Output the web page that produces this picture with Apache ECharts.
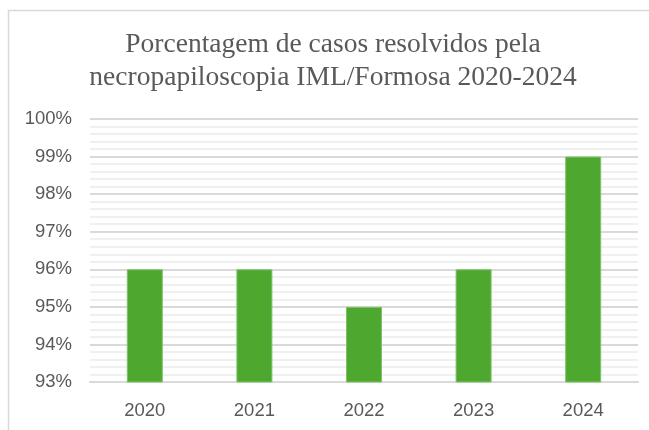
<!DOCTYPE html>
<html lang="pt">
<head>
    <meta charset="UTF-8">
    <title>Porcentagem de casos resolvidos</title>
    <script src="https://cdn.jsdelivr.net/npm/echarts@6/dist/echarts.min.js"></script>
    <style>
        html, body { margin: 0; padding: 0; background: #fff; }
        #chart { width: 649px; height: 430px; }
    </style>
</head>
<body>
    <div id="chart"></div>
    <script>
        // dados
        const anos = ['2020', '2021', '2022', '2023', '2024'];
        const percentuais = [96, 96, 95, 96, 99];
        const yMin = 93;
        const yMax = 100;

        var myChart = echarts.init(document.getElementById('chart'));

        var option = {
            backgroundColor: '#fff',
            animation: false,
            title: {
                text: 'Porcentagem de casos resolvidos pela\nnecropapiloscopia IML/Formosa 2020-2024',
                left: 333,
                textAlign: 'center',
                top: 28,
                padding: 0,
                textStyle: {
                    fontFamily: 'Liberation Serif',
                    fontSize: 27.5,
                    fontWeight: 'normal',
                    lineHeight: 33,
                    color: '#595959'
                }
            },
            graphic: [
                {
                    type: 'rect',
                    shape: { x: 8.5, y: 10.5, width: 700, height: 500 },
                    style: { fill: 'none', stroke: '#d9d9d9', lineWidth: 1.5 },
                    silent: true,
                    z: -1
                }
            ],
            grid: {
                left: 90,
                right: 11,
                top: 119,
                bottom: 48
            },
            xAxis: {
                type: 'category',
                data: anos,
                axisLine: { lineStyle: { color: '#d9d9d9', width: 2 } },
                axisTick: { show: false },
                axisLabel: {
                    margin: 19,
                    fontFamily: 'Liberation Sans',
                    fontSize: 18.5,
                    color: '#595959'
                }
            },
            yAxis: {
                type: 'value',
                min: yMin,
                max: yMax,
                interval: 1,
                axisLine: { show: false },
                axisTick: { show: false },
                axisLabel: {
                    margin: 18,
                    fontFamily: 'Liberation Sans',
                    fontSize: 18.5,
                    color: '#595959',
                    formatter: '{value}%'
                },
                splitLine: { lineStyle: { color: '#d9d9d9', width: 2 } },
                minorTick: { show: false, splitNumber: 5 },
                minorSplitLine: { show: true, lineStyle: { color: '#f0f0f0', width: 2 } }
            },
            series: [
                {
                    type: 'bar',
                    data: percentuais,
                    barWidth: 36,
                    itemStyle: {
                        color: '#4ea72e',
                        borderColor: '#7cc466',
                        borderWidth: 1
                    }
                }
            ]
        };

        myChart.setOption(option);
    </script>
</body>
</html>
